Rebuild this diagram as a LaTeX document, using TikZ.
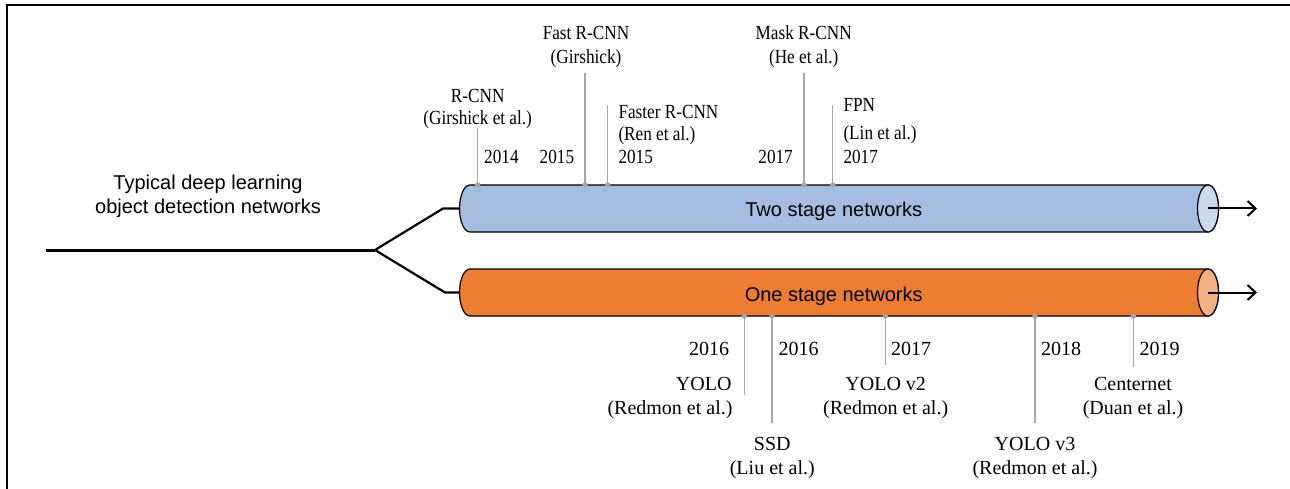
\documentclass[tikz,border=0pt]{standalone}
\usepackage{fontspec}
\setmainfont{Liberation Serif}
\newfontfamily\sansf{Liberation Sans}
\newfontfamily\condf[FakeStretch=0.86]{Liberation Serif}
\usetikzlibrary{arrows.meta}
\definecolor{blueb}{HTML}{A6BDE2}
\definecolor{bluec}{HTML}{C9D9EF}
\definecolor{orgb}{HTML}{ED7D31}
\definecolor{orgc}{HTML}{F4B183}
\definecolor{tickc}{HTML}{A6A6A6}
\begin{document}
\begin{tikzpicture}[x=1pt,y=-1pt,
  toplab/.style={font=\condf\fontsize{20}{23}\selectfont, inner sep=0pt, anchor=base},
  botlab/.style={font=\fontsize{20}{24}\selectfont, inner sep=0pt, anchor=base},
  sanslab/.style={font=\sansf\fontsize{20}{24}\selectfont, inner sep=0pt, anchor=base},
  tickline/.style={draw=tickc, line width=1.3pt},
  tdot/.style={circle, fill=tickc, inner sep=0pt, minimum size=5.5pt},
  cylout/.style={draw=black, line width=1.2pt},
  branch/.style={line width=2.2pt},
  outarrow/.style={line width=2pt, -{Straight Barb[length=8pt,width=15pt,line width=2pt]}}]
\useasboundingbox (0,0) rectangle (1290,489);
% frame (top and left edges visible)
\draw[line width=2pt] (7,489) -- (7,5) -- (1290,5);

% cylinders
\filldraw[cylout, fill=blueb] (1208,185) -- (470,185)
  arc[start angle=270, end angle=90, x radius=10.5, y radius=23.5]
  -- (1208,232) arc[start angle=90, end angle=-90, x radius=10.5, y radius=23.5] -- cycle;
\filldraw[cylout, fill=bluec] (1208,208.5) ellipse[x radius=10.5, y radius=23.5];
\filldraw[cylout, fill=orgb] (1208,269) -- (470,269)
  arc[start angle=270, end angle=90, x radius=10.5, y radius=23.5]
  -- (1208,316) arc[start angle=90, end angle=-90, x radius=10.5, y radius=23.5] -- cycle;
\filldraw[cylout, fill=orgc] (1208,292.5) ellipse[x radius=10.5, y radius=23.5];

\node[sanslab] (two) at (833.7,216) {Two stage networks};
\node[sanslab] (one) at (833.7,301) {One stage networks};

% left tree
\node[sanslab] (titA) at (208,189.3) {Typical deep learning};
\node[sanslab] (titB) at (208,213.3) {object detection networks};
\coordinate (start) at (46,250);
\coordinate (split) at (375,250);
\coordinate (b1) at (443,208.5);
\coordinate (b2) at (445,292.5);
\coordinate (twoL) at (460,208.5);
\coordinate (oneL) at (460,292.5);
\draw[line width=3pt] (start) -- (split);
\draw[branch, line join=round] (split) -- (b1) -- (twoL);
\draw[branch, line join=round] (split) -- (b2) -- (oneL);

% output arrows
\coordinate (twoR) at (1208,208.5);
\coordinate (twoE) at (1257,208.5);
\coordinate (oneR) at (1208,292.5);
\coordinate (oneE) at (1257,292.5);
\draw[outarrow] (twoR) -- (twoE);
\draw[outarrow] (oneR) -- (oneE);

% ---- top milestones ----
\coordinate (rcnnT) at (477.7,128);
\coordinate (fastT) at (585,73);
\coordinate (fasterT) at (607.7,105);
\coordinate (maskT) at (804,73);
\coordinate (fpnT) at (832.7,105);
\node[tdot] (rcnnD) at (477.7,185) {};
\node[tdot] (fastD) at (585,185) {};
\node[tdot] (fasterD) at (607.7,185) {};
\node[tdot] (maskD) at (804,185) {};
\node[tdot] (fpnD) at (832.7,185) {};
\draw[tickline] (rcnnD.center) -- (rcnnT);
\draw[tickline] (fastD.center) -- (fastT);
\draw[tickline] (fasterD.center) -- (fasterT);
\draw[tickline] (maskD.center) -- (maskT);
\draw[tickline] (fpnD.center) -- (fpnT);

\node[toplab] (rcnnA) at (477.7,102.5) {R-CNN};
\node[toplab] (rcnnB) at (477.7,124.5) {(Girshick et al.)};
\node[toplab, anchor=base west] (y2014) at (484,163.3) {2014};

\node[toplab] (fastA) at (586,40) {Fast R-CNN};
\node[toplab] (fastB) at (586,63.3) {(Girshick)};
\node[toplab, anchor=base east] (y2015a) at (574.3,163.3) {2015};

\node[toplab, anchor=base west] (fasterA) at (618.3,118.3) {Faster R-CNN};
\node[toplab, anchor=base west] (fasterB) at (618.3,141) {(Ren et al.)};
\node[toplab, anchor=base west] (y2015b) at (618.3,163.3) {2015};

\node[toplab] (maskA) at (803.7,40) {Mask R-CNN};
\node[toplab] (maskB) at (803.7,63.3) {(He et al.)};
\node[toplab, anchor=base east] (y2017a) at (793,163.3) {2017};

\node[toplab, anchor=base west] (fpnA) at (843.3,111.7) {FPN};
\node[toplab, anchor=base west] (fpnB) at (843.3,139.5) {(Lin et al.)};
\node[toplab, anchor=base west] (y2017b) at (843.3,163.3) {2017};

% ---- bottom milestones ----
\coordinate (yoloT) at (744.3,395);
\coordinate (ssdT) at (772,423.3);
\coordinate (v2T) at (885.3,365);
\coordinate (v3T) at (1035,423);
\coordinate (cnT) at (1133.3,367);
\node[tdot] (yoloD) at (744.3,316) {};
\node[tdot] (ssdD) at (772,316) {};
\node[tdot] (v2D) at (885.3,316) {};
\node[tdot] (v3D) at (1035,316) {};
\node[tdot] (cnD) at (1133.3,316) {};
\draw[tickline] (yoloD.center) -- (yoloT);
\draw[tickline] (ssdD.center) -- (ssdT);
\draw[tickline] (v2D.center) -- (v2T);
\draw[tickline] (v3D.center) -- (v3T);
\draw[tickline] (cnD.center) -- (cnT);

\node[botlab, anchor=base east] (y2016a) at (729.3,355) {2016};
\node[botlab, anchor=base east] (yoloA) at (731.7,390.7) {YOLO};
\node[botlab, anchor=base east] (yoloB) at (732.7,414.7) {(Redmon et al.)};

\node[botlab, anchor=base west] (y2016b) at (778.3,355) {2016};
\node[botlab] (ssdA) at (772.3,450) {SSD};
\node[botlab] (ssdB) at (772.3,474) {(Liu et al.)};

\node[botlab, anchor=base west] (y2017c) at (891,355) {2017};
\node[botlab] (v2A) at (885.7,390.7) {YOLO v2};
\node[botlab] (v2B) at (885.7,414.7) {(Redmon et al.)};

\node[botlab, anchor=base west] (y2018) at (1041,355) {2018};
\node[botlab] (v3A) at (1035,450) {YOLO v3};
\node[botlab] (v3B) at (1035,474) {(Redmon et al.)};

\node[botlab, anchor=base west] (y2019) at (1139.3,355) {2019};
\node[botlab] (cnA) at (1133,390.7) {Centernet};
\node[botlab] (cnB) at (1133,414.7) {(Duan et al.)};
\end{tikzpicture}
\end{document}
